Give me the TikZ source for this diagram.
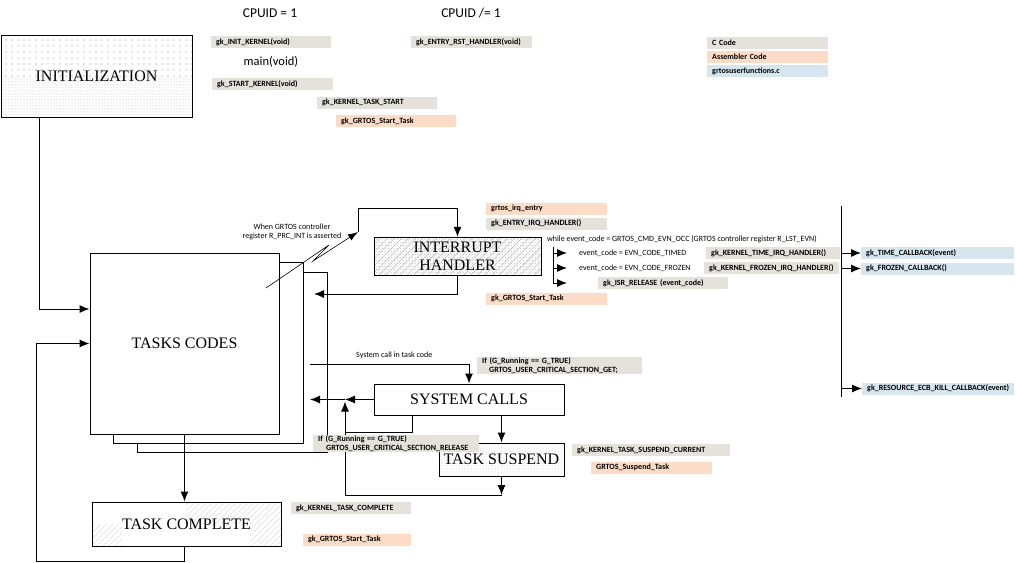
\documentclass[tikz,border=0pt]{standalone}
\usepackage{fontspec}
\setmainfont{Liberation Serif}
\newfontfamily\lblfont{Carlito}
\usetikzlibrary{arrows.meta,patterns,patterns.meta}

\definecolor{ccode}{HTML}{E5E2DC}
\definecolor{asm}{HTML}{FCDCC6}
\definecolor{ufun}{HTML}{D6E5EE}

\tikzset{
  line/.style={line width=1pt},
  arr/.style={line width=1pt,-{Latex[length=10pt,width=8pt]}},
  thinarr/.style={line width=0.6pt,-{Latex[length=10pt,width=7pt]}},
  bigbox/.style={draw,line width=1pt,inner sep=0pt,align=center,
    font=\fontsize{16}{18}\selectfont},
  lbl/.style={fill=#1,anchor=west,inner xsep=5pt,inner ysep=0pt,
    minimum height=12pt,align=left,
    execute at begin node={\hyphenpenalty=10000\exhyphenpenalty=10000},
    font=\lblfont\bfseries\fontsize{8}{9}\selectfont},
  note/.style={inner sep=0pt,font=\lblfont\fontsize{8}{9}\selectfont},
  head/.style={inner sep=0pt,font=\lblfont\fontsize{12.5}{14}\selectfont},
}

\begin{document}
\begin{tikzpicture}[x=1pt,y=-1pt]
\useasboundingbox (0,0) rectangle (1016,562);

% ---- titles ----
\node[head,font=\lblfont\fontsize{13.5}{15}\selectfont] (cpu1) at (270,13) {CPUID = 1};
\node[head,font=\lblfont\fontsize{13.5}{15}\selectfont] (cpun) at (471,13) {CPUID /= 1};
\node[head] (mainv) at (271,62) {main(void)};

% ---- shaded backgrounds ----
\fill[pattern={Dots[distance=6pt,radius=0.6pt]},pattern color=gray!90] (1,35) rectangle (192,76);
\fill[pattern={Dots[distance=3pt,radius=0.5pt]},pattern color=gray!60] (1,76) rectangle (192,117);
\begin{scope}
  \clip (186,502) rectangle (281,524) (250,524) rectangle (281,546) (92,524) rectangle (122,546);
  \fill[pattern={Lines[angle=45,distance=4pt,line width=0.5pt]},pattern color=gray!35] (92,502) rectangle (281,546);
\end{scope}

% ---- main blocks ----
\node[bigbox,minimum width=191pt,minimum height=82pt] (init) at (96.5,76) {INITIALIZATION};
\node[bigbox,fill=white,minimum width=190pt,minimum height=180pt] (tasksC) at (232,362) {};
\node[bigbox,fill=white,minimum width=190pt,minimum height=181pt] (tasksB) at (208,352.5) {};
\node[bigbox,fill=white,minimum width=189pt,minimum height=181pt] (tasks) at (184.5,343.5) {TASKS CODES};
\node[bigbox,minimum width=167pt,minimum height=38pt,
  preaction={pattern=crosshatch dots,pattern color=gray!50},
  pattern={Lines[angle=45,distance=5pt,line width=0.4pt]},pattern color=gray!55] (irq) at (457.5,256) {INTERRUPT\\HANDLER};
\node[bigbox,fill=white,minimum width=190pt,minimum height=31pt] (sc) at (469,399.5) {SYSTEM CALLS};
\node[bigbox,minimum width=125pt,minimum height=33pt,pattern={Dots[distance=3pt,radius=0.5pt]},pattern color=gray!55] (susp) at (501.5,459.5) {TASK SUSPEND};
\node[bigbox,minimum width=189pt,minimum height=44pt] (compl) at (186.5,524) {TASK COMPLETE};

% ---- free connector ends ----
\coordinate (lp) at (36,561);
\coordinate (zz) at (266,288);
\coordinate (intin) at (358,232);
\coordinate (reti) at (314,294);
\coordinate (scin) at (310,364);
\coordinate (jn) at (345,399.5);
\coordinate (rets) at (310,399.5);
\coordinate (jm) at (345,432);
\coordinate (jb) at (345,495);
\coordinate (bt) at (841,206);
\coordinate (bb) at (841,397);

% ---- texts ----
\node[note,align=center] (wint) at (292,231.5) {When GRTOS controller\\register R\_PRC\_INT is asserted};
\node[note,anchor=west] (sctxt) at (356,355) {System call in task code};
\node[note,anchor=west] (while) at (547,239) {while event\_code = GRTOS\_CMD\_EVN\_OCC (GRTOS controller register R\_LST\_EVN)};
\node[note,anchor=west] (evt) at (579,253) {event\_code = EVN\_CODE\_TIMED};
\node[note,anchor=west] (evf) at (579,268) {event\_code = EVN\_CODE\_FROZEN};

% ---- connectors ----
\draw[arr] ([xshift=39pt]init.south west) |- ([yshift=34.5pt]tasks.west);
\draw[arr] (tasks.south) -- (tasks.south |- compl.north);
\draw[arr] (tasks.south |- compl.south) |- (lp) |- (tasks.west);

\draw[thinarr] (zz) -- ++(63,-43) -- ++(-16,16) -- (intin);
\draw[arr] (intin) |- ([yshift=28pt]irq.north) -- (irq.north);
\draw[arr] (irq.south) |- (reti);

\draw[arr] (scin) -| (sc.north);
\draw[arr] (sc.west) -- (jn);
\draw[arr] (jn) -- (rets);
\draw[line] ([xshift=39pt]sc.south west) |- (jm);
\draw[arr] (sc.south -| susp.north) -- (susp.north);
\draw[arr] (susp.south) -- (susp.south |- jb);
\draw[arr,shorten >=2pt] (susp.south |- jb) -- (jb) -- (jn);

\draw[arr] ([xshift=6pt,yshift=-4pt]while.south west) |- ([xshift=-12pt]evt.west);
\draw[arr] ([xshift=6pt,yshift=-4pt]while.south west) |- ([xshift=-12pt]evf.west);

% ---- code labels ----
\node[lbl=ccode,text width=110pt] (initk) at (211,42) {gk\_INIT\_KERNEL(void)};
\node[lbl=ccode,text width=111pt] (startk) at (212,84) {gk\_START\_KERNEL(void)};
\node[lbl=ccode,text width=110pt] (ktstart) at (317,102.5) {gk\_KERNEL\_TASK\_START};
\node[lbl=asm,text width=110pt] (gstart1) at (336,121) {gk\_GRTOS\_Start\_Task};
\node[lbl=ccode,text width=111pt] (rsth) at (411,42) {gk\_ENTRY\_RST\_HANDLER(void)};

\node[lbl=ccode,text width=111pt] (legc) at (707,43) {C Code};
\node[lbl=asm,text width=111pt] (lega) at (707,57) {Assembler Code};
\node[lbl=ufun,text width=111pt] (legu) at (707,71) {grtosuserfunctions.c};

\node[lbl=asm,text width=111pt] (irqe) at (486,208.5) {grtos\_irq\_entry};
\node[lbl=ccode,text width=111pt] (eirq) at (486,223.5) {gk\_ENTRY\_IRQ\_HANDLER()};
\node[lbl=asm,text width=111pt] (gstart2) at (486,298.5) {gk\_GRTOS\_Start\_Task};
\node[lbl=ccode,text width=124pt] (timeh) at (706,253) {gk\_KERNEL\_TIME\_IRQ\_HANDLER()};
\node[lbl=ccode,text width=125pt] (frozh) at (704,268) {gk\_KERNEL\_FROZEN\_IRQ\_HANDLER()};
\node[lbl=ccode,text width=120pt] (isr) at (598,283) {gk\_ISR\_RELEASE (event\_code)};
\node[lbl=ufun,text width=143pt] (timecb) at (861,253) {gk\_TIME\_CALLBACK(event)};
\node[lbl=ufun,text width=143pt] (frozcb) at (861,268.5) {gk\_FROZEN\_CALLBACK()};
\node[lbl=ufun,text width=142pt] (killcb) at (862,388.5) {gk\_RESOURCE\_ECB\_KILL\_CALLBACK(event)};

\node[lbl=ccode,text width=155pt,minimum height=17pt] (csget) at (477,365.5) {If (G\_Running == G\_TRUE)\\\hspace*{7pt}GRTOS\_USER\_CRITICAL\_SECTION\_GET;};
\node[lbl=ccode,text width=156pt,minimum height=17pt] (csrel) at (313,443.5) {If (G\_Running == G\_TRUE)\\\hspace*{8pt}GRTOS\_USER\_CRITICAL\_SECTION\_RELEASE};
\node[lbl=ccode,text width=148pt] (ksusp) at (572,450) {gk\_KERNEL\_TASK\_SUSPEND\_CURRENT};
\node[lbl=asm,text width=111pt] (gsusp) at (591,467.5) {GRTOS\_Suspend\_Task};
\node[lbl=ccode,text width=110pt] (kcompl) at (291,508) {gk\_KERNEL\_TASK\_COMPLETE};
\node[lbl=asm,text width=98pt] (gstart3) at (303,539.5) {gk\_GRTOS\_Start\_Task};

% ---- ISR release branch and callback bus ----
\draw[arr] ([xshift=6pt,yshift=-4pt]while.south west) |- ([xshift=-31pt]isr.west);
\draw[line] (bt) -- (bb);
\draw[arr] (bt |- timecb.west) -- (timecb.west);
\draw[arr] (bt |- frozcb.west) -- (frozcb.west);
\draw[arr] (bt |- killcb.west) -- (killcb.west);
\end{tikzpicture}
\end{document}
